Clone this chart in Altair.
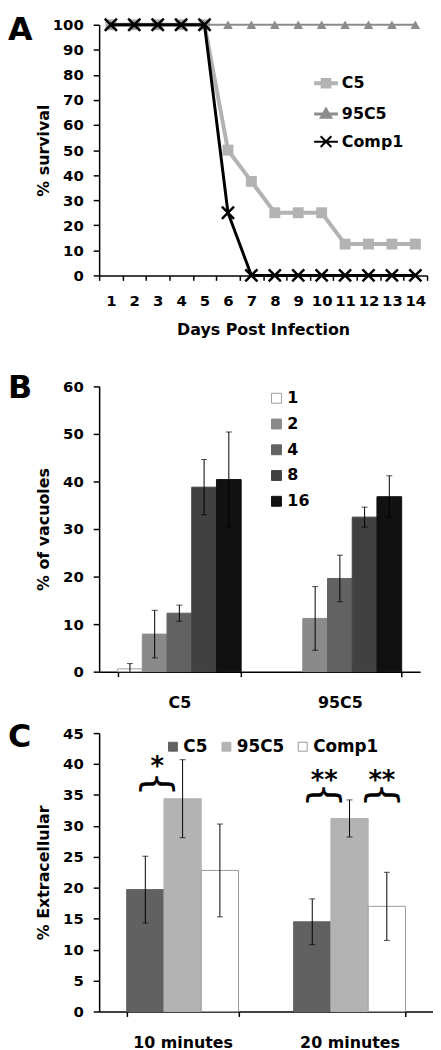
import altair as alt
import pandas as pd

FONT = "DejaVu Sans"

# ---------------- Panel A data ----------------
days = list(range(1, 15))
series_names = ["C5", "95C5", "Comp1"]
surv_C5 = [100, 100, 100, 100, 100, 50, 37.5, 25, 25, 25, 12.5, 12.5, 12.5, 12.5]
surv_95C5 = [100, 100, 100, 100, 100, 100, 100, 100, 100, 100, 100, 100, 100, 100]
surv_Comp1 = [100, 100, 100, 100, 100, 25, 0, 0, 0, 0, 0, 0, 0, 0]
series_colors = ["#b3b3b3", "#8c8c8c", "#000000"]

# ---------------- Panel B data ----------------
vac_strains = ["C5", "95C5"]
vac_sizes = ["1", "2", "4", "8", "16"]
vac_C5 = [0.6, 7.9, 12.3, 38.8, 40.4]
vac_C5_err = [1.1, 5.0, 1.7, 5.8, 10.0]
vac_95C5 = [0.0, 11.2, 19.6, 32.5, 36.8]
vac_95C5_err = [None, 6.7, 4.9, 2.1, 4.4]
vac_fills = ["#ffffff", "#8a8a8a", "#626262", "#414141", "#111111"]
vac_strokes = ["#a0a0a0", "#8a8a8a", "#626262", "#414141", "#111111"]

# ---------------- Panel C data ----------------
ext_times = ["10 minutes", "20 minutes"]
ext_strains = ["C5", "95C5", "Comp1"]
ext_10 = [19.7, 34.4, 22.8]
ext_10_err = [5.4, 6.3, 7.5]
ext_20 = [14.5, 31.2, 17.0]
ext_20_err = [3.7, 3.0, 5.5]
ext_fills = ["#616161", "#b3b3b3", "#ffffff"]
ext_strokes = ["#616161", "#b3b3b3", "#9a9a9a"]

sig_time = ["10 minutes", "20 minutes", "20 minutes"]
sig_anchor = ["C5", "C5", "Comp1"]
sig_side = ["right", "right", "left"]
sig_stars = ["*", "**", "**"]
sig_brace_y = [36.8, 35.0, 35.0]
sig_star_y = [39.5, 37.3, 37.3]

# ---------------- helpers ----------------
def letter(ch, ypos):
    return alt.Chart(pd.DataFrame({"t": [ch]})).mark_text(
        align="left", baseline="top", font=FONT, fontWeight="bold", fontSize=32, color="black"
    ).encode(text="t:N", x=alt.value(-92), y=alt.value(ypos))

# ---------------- Panel A ----------------
W_A, H_A = 331, 253
dfA = pd.DataFrame({
    "day": days * 3,
    "series": ["C5"] * 14 + ["95C5"] * 14 + ["Comp1"] * 14,
    "value": surv_C5 + surv_95C5 + surv_Comp1,
})
xA = alt.X("day:O", scale=alt.Scale(type="band", paddingInner=0, paddingOuter=0),
           axis=alt.Axis(title="Days Post Infection", labelAngle=0, tickBand="extent", tickSize=5,
                         labelPadding=13, titlePadding=14, labelFontSize=15))
yA = alt.Y("value:Q", scale=alt.Scale(domain=[0, 100], nice=False),
           axis=alt.Axis(title="% survival", values=list(range(0, 101, 10)), tickSize=6, labelPadding=10,
                         titleX=-56, titleY=H_A / 2, titleBaseline="middle"))

x_path = "M-1,-1L1,1M-1,1L1,-1"
layersA = []
styles = {
    "C5": dict(color=series_colors[0], sw=4, shape="square", size=121, filled=True, pw=0),
    "95C5": dict(color=series_colors[1], sw=2, shape="triangle-up", size=95, filled=True, pw=0),
    "Comp1": dict(color=series_colors[2], sw=3, shape=x_path, size=150, filled=False, pw=2.5),
}
for name in series_names:
    s = styles[name]
    src = alt.Chart(dfA).transform_filter(alt.datum.series == name)
    layersA.append(src.mark_line(color=s["color"], strokeWidth=s["sw"]).encode(x=xA, y=yA))
    layersA.append(src.mark_point(shape=s["shape"], size=s["size"], filled=s["filled"], color=s["color"],
                                  opacity=1, strokeWidth=s["pw"]).encode(x=xA, y=yA))

leg_paths = [
    "M-1,0L1,0M-0.28,-0.28L0.28,-0.28L0.28,0.28L-0.28,0.28Z",
    "M-1,0L1,0M0,-0.38L0.38,0.28L-0.38,0.28Z",
    "M-1,0L1,0M-0.45,-0.45L0.45,0.45M-0.45,0.45L0.45,-0.45",
]
legA = alt.Legend(title=None, orient="none", legendX=215, legendY=45, padding=0, symbolSize=576,
                  symbolOpacity=1, labelFont=FONT, labelFontWeight="bold", labelFontSize=16,
                  labelOffset=2, rowPadding=5.5, labelColor="black")
legend_layer = alt.Chart(dfA).transform_filter("datum.value < -1").mark_point(filled=True, opacity=1).encode(
    x=xA, y=yA,
    fill=alt.Fill("series:N", scale=alt.Scale(domain=series_names, range=series_colors), legend=legA),
    stroke=alt.Stroke("series:N", scale=alt.Scale(domain=series_names, range=series_colors), legend=legA),
    shape=alt.Shape("series:N", scale=alt.Scale(domain=series_names, range=leg_paths), legend=legA),
    strokeWidth=alt.StrokeWidth("series:N", scale=alt.Scale(domain=series_names, range=[4, 2, 3]), legend=legA),
)
chartA = alt.layer(*layersA, legend_layer, letter("A", -10)).properties(width=W_A, height=H_A)

# ---------------- Panel B ----------------
W_B, H_B = 324, 288
rowsB = []
for st, vals, errs in [("C5", vac_C5, vac_C5_err), ("95C5", vac_95C5, vac_95C5_err)]:
    for sz, v, e in zip(vac_sizes, vals, errs):
        rowsB.append({"strain": st, "size": sz, "value": v,
                      "lo": None if e is None else max(0, v - e),
                      "hi": None if e is None else v + e})
dfB = pd.DataFrame(rowsB)
xB = alt.X("strain:N", sort=vac_strains, scale=alt.Scale(paddingInner=0.23, paddingOuter=0.115),
           axis=alt.Axis(title=None, labelAngle=0, tickBand="extent", tickSize=5, labelPadding=18, labelFontSize=16))
xoB = alt.XOffset("size:N", sort=vac_sizes, scale=alt.Scale(domain=vac_sizes, paddingInner=0, paddingOuter=0))
axB = alt.Axis(title="% of vacuoles", values=list(range(0, 61, 10)), tickSize=6, labelPadding=10,
               titleX=-56, titleY=H_B / 2, titleBaseline="middle")
scB = alt.Scale(domain=[0, 60], nice=False)
legB = alt.Legend(title=None, orient="none", legendX=171, legendY=4, padding=0, symbolType="square",
                  symbolSize=100, symbolStrokeWidth=1, labelFont=FONT, labelFontWeight="bold", labelFontSize=16,
                  labelOffset=3, rowPadding=10, labelColor="black")
barsB = alt.Chart(dfB).transform_filter("datum.value > 0").mark_bar(strokeWidth=1).encode(
    x=xB, xOffset=xoB, y=alt.Y("value:Q", scale=scB, axis=axB),
    fill=alt.Fill("size:N", scale=alt.Scale(domain=vac_sizes, range=vac_fills), legend=legB),
    stroke=alt.Stroke("size:N", scale=alt.Scale(domain=vac_sizes, range=vac_strokes), legend=legB),
)
errB = alt.Chart(dfB).transform_filter("isValid(datum.hi)")
ruleB = errB.mark_rule(color="black", strokeWidth=1).encode(
    x=xB, xOffset=xoB, y=alt.Y("lo:Q", scale=scB, axis=axB), y2="hi:Q")
capHiB = errB.mark_tick(color="black", thickness=1, size=6).encode(x=xB, xOffset=xoB, y=alt.Y("hi:Q", scale=scB, axis=axB))
capLoB = errB.transform_filter("datum.lo > 0").mark_tick(color="black", thickness=1, size=6).encode(
    x=xB, xOffset=xoB, y=alt.Y("lo:Q", scale=scB, axis=axB))
chartB = alt.layer(barsB, ruleB, capHiB, capLoB, letter("B", -13)).properties(width=W_B, height=H_B)

# ---------------- Panel C ----------------
W_C, H_C = 337, 281
rowsC = []
for t, vals, errs in [("10 minutes", ext_10, ext_10_err), ("20 minutes", ext_20, ext_20_err)]:
    for st, v, e in zip(ext_strains, vals, errs):
        rowsC.append({"time": t, "strain": st, "value": v, "lo": v - e, "hi": v + e})
dfC = pd.DataFrame(rowsC)
xC = alt.X("time:N", sort=ext_times, scale=alt.Scale(paddingInner=0.33, paddingOuter=0.165),
           axis=alt.Axis(title=None, labelAngle=0, tickBand="extent", tickSize=5, labelPadding=18, labelFontSize=16))
xoC = alt.XOffset("strain:N", sort=ext_strains, scale=alt.Scale(domain=ext_strains, paddingInner=0, paddingOuter=0))
axC = alt.Axis(title="% Extracellular", values=list(range(0, 46, 5)), tickSize=6, labelPadding=10,
               titleX=-56, titleY=H_C / 2, titleBaseline="middle")
scC = alt.Scale(domain=[0, 45], nice=False)
legC = alt.Legend(title=None, orient="none", direction="horizontal", legendX=66, legendY=5, padding=0,
                  symbolType="square", symbolSize=81, symbolStrokeWidth=1, labelFont=FONT,
                  labelFontWeight="bold", labelFontSize=17, labelOffset=2, columnPadding=10, labelColor="black")
barsC = alt.Chart(dfC).mark_bar(strokeWidth=1).encode(
    x=xC, xOffset=xoC, y=alt.Y("value:Q", scale=scC, axis=axC),
    fill=alt.Fill("strain:N", scale=alt.Scale(domain=ext_strains, range=ext_fills), legend=legC),
    stroke=alt.Stroke("strain:N", scale=alt.Scale(domain=ext_strains, range=ext_strokes), legend=legC),
)
ruleC = alt.Chart(dfC).mark_rule(color="black", strokeWidth=1).encode(
    x=xC, xOffset=xoC, y=alt.Y("lo:Q", scale=scC, axis=axC), y2="hi:Q")
capHiC = alt.Chart(dfC).mark_tick(color="black", thickness=1, size=6).encode(x=xC, xOffset=xoC, y=alt.Y("hi:Q", scale=scC, axis=axC))
capLoC = alt.Chart(dfC).mark_tick(color="black", thickness=1, size=6).encode(x=xC, xOffset=xoC, y=alt.Y("lo:Q", scale=scC, axis=axC))

dfSig = pd.DataFrame({"time": sig_time, "strain": sig_anchor, "side": sig_side, "stars": sig_stars,
                      "brace": sig_brace_y, "star": sig_star_y})
sig_layers = []
for side, shift in [("right", 12), ("left", -5)]:
    src = alt.Chart(dfSig).transform_filter(alt.datum.side == side)
    # rotated 90deg clockwise: dy moves the glyph horizontally (positive = left)
    sig_layers.append(src.mark_text(text="{", angle=90, align="center", baseline="middle", font=FONT,
                                    fontSize=40, dy=-shift, color="black").encode(
        x=xC, xOffset=xoC, y=alt.Y("brace:Q", scale=scC, axis=axC)))
    sig_layers.append(src.mark_text(align="center", baseline="middle", font=FONT, fontWeight="bold",
                                    fontSize=26, dx=shift, color="black").encode(
        x=xC, xOffset=xoC, y=alt.Y("star:Q", scale=scC, axis=axC), text="stars:N"))
chartC = alt.layer(barsC, ruleC, capHiC, capLoC, *sig_layers, letter("C", -11)).properties(width=W_C, height=H_C)

indep = dict(x="independent", y="independent", xOffset="independent", fill="independent",
             stroke="independent", shape="independent", strokeWidth="independent")
top = alt.vconcat(chartA, chartB, spacing=35).resolve_scale(**indep)
chart = alt.vconcat(top, chartC, spacing=11, padding=0).resolve_scale(**indep).configure_view(
    stroke=None
).configure_axis(
    grid=False, domainColor="black", domainWidth=1.5, tickColor="black", tickWidth=1.5,
    labelColor="black", labelFont=FONT, labelFontWeight="bold", labelFontSize=15,
    titleColor="black", titleFont=FONT, titleFontWeight="bold", titleFontSize=16,
    labelFlush=False, labelOverlap=False, labelBound=False,
)
chart.save("out.html", embed_options={"renderer": "svg", "actions": False})
